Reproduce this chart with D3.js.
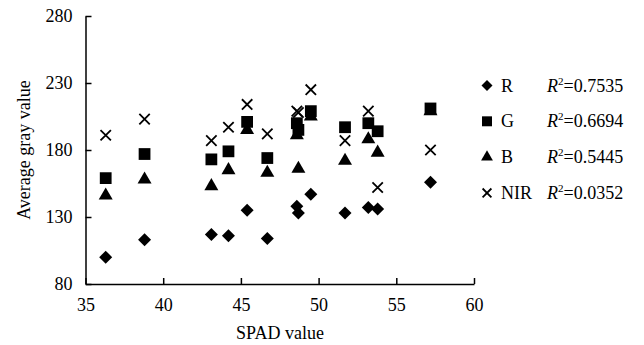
<!DOCTYPE html>
<html lang="en">
<head>
<meta charset="UTF-8">
<title>SPAD vs average gray value</title>
<script src="https://cdn.jsdelivr.net/npm/d3@7"></script>
<style>
  body { margin: 0; background: #fff; }
  text { font-family: "Liberation Serif", "Times New Roman", serif; fill: #000; }
</style>
</head>
<body>
<script>
// data
var spad = [36.3, 38.8, 43.1, 44.2, 45.4, 46.7, 48.6, 48.7, 49.5, 51.7, 53.2, 53.8, 57.2];
var rVals = [100, 113, 117, 116, 135, 114, 138, 133, 147, 133, 137, 136, 156];
var gVals = [159, 177, 173, 179, 201, 174, 200, 195, 209, 197, 200, 194, 211];
var bVals = [146, 158, 153, 165, 195, 163, 191, 166, 205, 172, 188, 178, 209];
var nirVals = [191, 203, 187, 197, 214, 192, 209, 208, 225, 187, 209, 152, 180];

var seriesNames = ["R", "G", "B", "NIR"];
var r2Labels = ["0.7535", "0.6694", "0.5445", "0.0352"];
var xTicks = [35, 40, 45, 50, 55, 60];
var yTicks = [80, 130, 180, 230, 280];

var width = 644, height = 345;
var svg = d3.select("body").append("svg")
    .attr("width", width)
    .attr("height", height);

var x = d3.scaleLinear().domain([35, 60]).range([85.5, 474]);
var y = d3.scaleLinear().domain([80, 280]).range([284, 16]);

// axes, ticks pointing inward
var xAxis = d3.axisBottom(x).tickValues(xTicks).tickSizeInner(-6).tickSizeOuter(0);
var yAxis = d3.axisLeft(y).tickValues(yTicks).tickSizeInner(-6).tickSizeOuter(0);

var gx = svg.append("g").attr("transform", "translate(0,284)").call(xAxis);
var gy = svg.append("g").attr("transform", "translate(85.5,0)").call(yAxis);

[gx, gy].forEach(function (g) {
    g.select(".domain").attr("stroke", "#000").attr("stroke-width", 1.5);
    g.selectAll(".tick line").attr("stroke", "#000").attr("stroke-width", 1.5);
    g.selectAll(".tick text")
        .style("font-family", "'Liberation Serif', serif")
        .style("font-size", "18px")
        .attr("fill", "#000");
});
gx.selectAll(".tick text").attr("y", 27).attr("dy", 0);
gy.selectAll(".tick text").attr("x", -13).attr("dy", "0.33em");

// axis titles
svg.append("text")
    .attr("x", 280).attr("y", 339)
    .attr("text-anchor", "middle")
    .style("font-size", "18px")
    .text("SPAD value");

svg.append("text")
    .attr("transform", "translate(30,150) rotate(-90)")
    .attr("text-anchor", "middle")
    .style("font-size", "18px")
    .text("Average gray value");

// marker shapes
function drawMarker(sel, name, size) {
    if (name === "R") {
        sel.append("path")
            .attr("d", d3.symbol(d3.symbolSquare, size * size * 0.5)())
            .attr("transform", "rotate(45)")
            .attr("fill", "#000");
    } else if (name === "G") {
        sel.append("path")
            .attr("d", d3.symbol(d3.symbolSquare, size * size * 0.82)())
            .attr("fill", "#000");
    } else if (name === "B") {
        sel.append("path")
            .attr("d", d3.symbol(d3.symbolTriangle, size * size * 0.5)())
            .attr("fill", "#000");
    } else {
        var h = size * 0.4;
        sel.append("path")
            .attr("d", "M" + (-h) + "," + (-h) + "L" + h + "," + h + "M" + (-h) + "," + h + "L" + h + "," + (-h))
            .attr("stroke", "#000")
            .attr("stroke-width", 1.8)
            .attr("fill", "none");
    }
}

var seriesVals = {R: rVals, G: gVals, B: bVals, NIR: nirVals};

// triangles go under the squares, crosses on top
["B", "G", "R", "NIR"].forEach(function (name) {
    var vals = seriesVals[name];
    var pts = svg.append("g").selectAll("g")
        .data(spad.map(function (s, i) { return {x: s, y: vals[i]}; }))
        .enter().append("g")
        .attr("transform", function (d) { return "translate(" + x(d.x) + "," + y(d.y) + ")"; });
    pts.each(function () { drawMarker(d3.select(this), name, 13); });
});

// legend
var legendTop = 85.5, legendStep = 35.8;
seriesNames.forEach(function (name, k) {
    var ly = legendTop + k * legendStep;
    var mg = svg.append("g").attr("transform", "translate(487," + ly + ")");
    drawMarker(mg, name, 11);
    svg.append("text")
        .attr("x", 501).attr("y", ly + 6)
        .style("font-size", "18px")
        .text(name);
    var t = svg.append("text")
        .attr("x", 547).attr("y", ly + 6)
        .style("font-size", "18px");
    t.append("tspan").style("font-style", "italic").text("R");
    t.append("tspan").attr("dy", -7).style("font-size", "11px").text("2");
    t.append("tspan").attr("dy", 7).text("=" + r2Labels[k]);
});
</script>
</body>
</html>
